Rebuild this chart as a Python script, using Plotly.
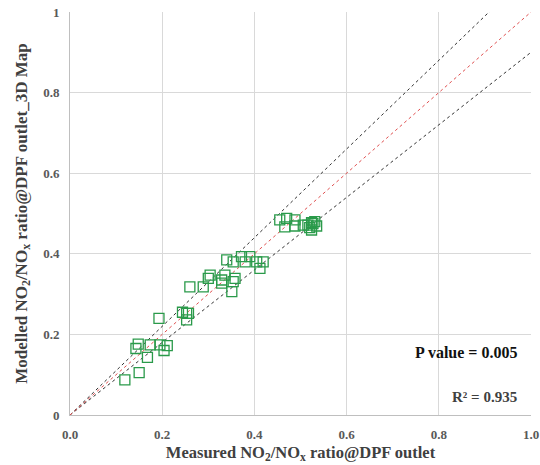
import plotly.graph_objects as go

measured = [0.455, 0.470, 0.488, 0.466, 0.488, 0.506, 0.524, 0.531, 0.524, 0.535, 0.516, 0.527, 0.520,
            0.340, 0.354, 0.372, 0.390, 0.380, 0.405, 0.419, 0.412, 0.304, 0.300, 0.289, 0.260,
            0.329, 0.336, 0.358, 0.354, 0.329, 0.351, 0.253, 0.253,
            0.119, 0.150, 0.168, 0.143, 0.148, 0.174, 0.195, 0.204, 0.211, 0.193, 0.244, 0.257]
modelled = [0.484, 0.488, 0.484, 0.467, 0.469, 0.471, 0.477, 0.480, 0.459, 0.469, 0.471, 0.475, 0.465,
            0.385, 0.380, 0.393, 0.393, 0.380, 0.380, 0.380, 0.364, 0.347, 0.339, 0.318, 0.318,
            0.335, 0.347, 0.339, 0.331, 0.327, 0.306, 0.252, 0.236,
            0.087, 0.105, 0.143, 0.165, 0.176, 0.174, 0.174, 0.160, 0.172, 0.240, 0.255, 0.252]

line_x = [0.0, 1.0]
line_ideal = [0.0, 1.0]
line_upper = [0.0, 1.1]
line_lower = [0.0, 0.9]

x_ticks = [0.0, 0.2, 0.4, 0.6, 0.8, 1.0]
x_tick_text = ["0.0", "0.2", "0.4", "0.6", "0.8", "1.0"]
y_ticks = [0.0, 0.2, 0.4, 0.6, 0.8, 1.0]
y_tick_text = ["0", "0.2", "0.4", "0.6", "0.8", "1"]

font_family = "Liberation Serif, Times New Roman, serif"

fig = go.Figure()
fig.add_trace(go.Scatter(x=line_x, y=line_upper, mode="lines",
                         line=dict(color="#333333", width=1, dash="dot"), hoverinfo="skip"))
fig.add_trace(go.Scatter(x=line_x, y=line_lower, mode="lines",
                         line=dict(color="#333333", width=1, dash="dot"), hoverinfo="skip"))
fig.add_trace(go.Scatter(x=line_x, y=line_ideal, mode="lines",
                         line=dict(color="#e05050", width=1, dash="dot"), hoverinfo="skip"))
fig.add_trace(go.Scatter(x=measured, y=modelled, mode="markers",
                         marker=dict(symbol="square-open", size=10, color="#2a9a4a",
                                     line=dict(width=1.3, color="#2a9a4a"))))

fig.add_annotation(x=0.975, y=0.155, xref="x", yref="y", text="<b>P value = 0.005</b>",
                   showarrow=False, xanchor="right", yanchor="middle",
                   font=dict(family=font_family, size=16, color="#111111"))
fig.add_annotation(x=0.975, y=0.045, xref="x", yref="y", text="<b>R² = 0.935</b>",
                   showarrow=False, xanchor="right", yanchor="middle",
                   font=dict(family=font_family, size=15, color="#404040"))

axis_common = dict(range=[0, 1], showgrid=True, gridcolor="#d9d9d9", gridwidth=1,
                   zeroline=False, showline=True, linecolor="#bfbfbf", linewidth=1,
                   automargin=False,
                   ticks="outside", ticklen=7, tickcolor="rgba(0,0,0,0)",
                   tickfont=dict(family=font_family, size=13, color="#595959"))

fig.update_layout(
    width=540, height=465,
    margin=dict(l=70, r=9, t=12, b=50),
    paper_bgcolor="white", plot_bgcolor="white",
    showlegend=False,
    font=dict(family=font_family),
    xaxis=dict(**axis_common, tickvals=x_ticks, ticktext=["<b>%s</b>" % t for t in x_tick_text],
               title=dict(text="<b>Measured NO<sub>2</sub>/NO<sub>x</sub> ratio@DPF outlet</b>",
                          font=dict(family=font_family, size=16.5, color="#404040"), standoff=5)),
    yaxis=dict(**axis_common, tickvals=y_ticks, ticktext=["<b>%s</b>" % t for t in y_tick_text],
               title=dict(text="<b>Modelled NO<sub>2</sub>/NO<sub>x</sub> ratio@DPF outlet_3D Map</b>",
                          font=dict(family=font_family, size=17, color="#404040"), standoff=11)),
)

fig.write_html("out.html", config={"displayModeBar": False},
               post_script="document.body.style.margin='0px';")
